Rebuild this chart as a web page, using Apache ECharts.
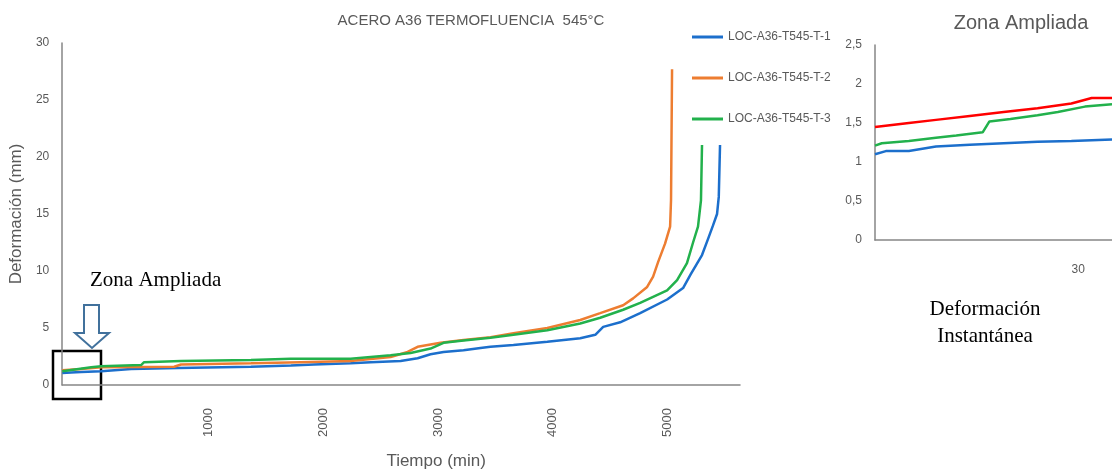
<!DOCTYPE html>
<html>
<head>
<meta charset="utf-8">
<script src="https://cdn.jsdelivr.net/npm/echarts@6/dist/echarts.min.js"></script>
<style>html,body{margin:0;padding:0;background:#fff;}#c{width:1112px;height:476px;}</style>
</head>
<body>
<div id="c"></div>
<script>
// ---- Data (main chart): [tiempo (min), deformación (mm)] ----
const seriesNames = ['LOC-A36-T545-T-1', 'LOC-A36-T545-T-2', 'LOC-A36-T545-T-3'];
const serieT1 = [[-275,1.05],[-197,1.1],[-110,1.15],[64,1.2],[325,1.4],[734,1.5],[1369,1.6],[1717,1.72],[1917,1.8],[2238,1.9],[2412,2.0],[2673,2.1],[2821,2.35],[2934,2.7],[3047,2.9],[3221,3.05],[3369,3.25],[3456,3.35],[3656,3.5],[3951,3.8],[4238,4.1],[4369,4.4],[4438,5.1],[4586,5.5],[4760,6.3],[4995,7.5],[5134,8.5],[5200,9.7],[5299,11.4],[5351,12.8],[5395,14.0],[5430,15.0],[5445,16.5],[5456,21.05]];
const serieT2 = [[-275,1.3],[-110,1.4],[64,1.55],[700,1.6],[760,1.8],[1369,1.9],[1803,2.0],[2238,2.1],[2586,2.45],[2734,2.9],[2821,3.35],[3021,3.7],[3221,3.95],[3456,4.2],[3656,4.55],[3951,5.0],[4238,5.7],[4412,6.3],[4612,7.0],[4699,7.6],[4821,8.6],[4873,9.5],[4917,10.8],[4977,12.4],[5021,13.9],[5029,16.2],[5038,27.7]];
const serieT3 = [[-275,1.2],[-23,1.55],[64,1.65],[412,1.75],[438,2.0],[760,2.1],[1369,2.2],[1717,2.3],[2238,2.3],[2586,2.6],[2760,2.8],[2934,3.2],[3047,3.7],[3221,3.9],[3456,4.15],[3656,4.4],[3951,4.8],[4238,5.4],[4412,5.9],[4612,6.6],[4760,7.2],[4995,8.3],[5082,9.2],[5168,10.7],[5221,12.5],[5264,13.9],[5290,16.2],[5299,21.05]];
const xTickLabels = [1000, 2000, 3000, 4000, 5000];

// ---- Data (inset "Zona Ampliada") ----
const zonaRoja = [[0,1.45],[5,1.5],[9,1.54],[14,1.59],[19,1.64],[24,1.69],[29,1.75],[32,1.82],[35,1.82]];
const zonaVerde = [[0,1.21],[1,1.24],[5,1.27],[9,1.31],[12,1.34],[15.9,1.38],[16.9,1.52],[20,1.55],[24,1.6],[27,1.64],[31,1.71],[35,1.74]];
const zonaAzul = [[0,1.1],[1.6,1.14],[5,1.14],[9,1.2],[14,1.22],[19,1.24],[24,1.26],[29,1.27],[35,1.29]];
const zonaXLabels = [30];

const cBlue = '#1c6fcc', cOrange = '#ED7D31', cGreen = '#22b14c', cRed = '#ff0000';
const gray = '#595959', axisGray = '#868686';

const chart = echarts.init(document.getElementById('c'), null, {renderer: 'canvas'});
const lineS = (name, data, color, xi, yi, w) => ({
  name, type: 'line', data, xAxisIndex: xi, yAxisIndex: yi, symbol: 'none', showSymbol: false, smooth: false,
  lineStyle: {color, width: w}, itemStyle: {color}, animation: false
});

chart.setOption({
  animation: false,
  backgroundColor: '#fff',
  title: [
    {text: 'ACERO A36 TERMOFLUENCIA  545°C', left: 466, top: 8, textAlign: 'center',
     textStyle: {fontFamily: 'Liberation Sans', fontSize: 15, fontWeight: 'normal', color: gray}},
    {text: 'Zona Ampliada', left: 1016, top: 8, textAlign: 'center',
     textStyle: {fontFamily: 'Liberation Sans', fontSize: 20, fontWeight: 'normal', color: gray}}
  ],
  legend: {
    data: seriesNames, orient: 'vertical', left: 687, top: 26, icon: 'rect', itemWidth: 31, itemHeight: 3, itemGap: 29,
    textStyle: {fontFamily: 'Liberation Sans', fontSize: 12, color: gray}
  },
  grid: [
    {left: 61, right: 372, top: 43, bottom: 91},
    {left: 875, right: 0, top: 45, bottom: 236}
  ],
  xAxis: [
    {type: 'value', gridIndex: 0, min: -275, max: 5630,
     name: 'Tiempo (min)', nameLocation: 'middle', nameGap: 68,
     nameTextStyle: {fontFamily: 'Liberation Sans', fontSize: 17, color: gray, padding: [0,0,0,70]},
     axisLine: {show: true, onZero: false, lineStyle: {color: axisGray, width: 1.5}},
     axisTick: {show: false}, splitLine: {show: false},
     axisLabel: {customValues: xTickLabels, rotate: 90, margin: 23, fontFamily: 'Liberation Sans', fontSize: 13, color: gray,
       formatter: v => String(v)}},
    {type: 'value', gridIndex: 1, min: 0, max: 35,
     axisLine: {show: true, onZero: false, lineStyle: {color: axisGray, width: 1.5}},
     axisTick: {show: false}, splitLine: {show: false},
     axisLabel: {customValues: zonaXLabels, margin: 24, fontFamily: 'Liberation Sans', fontSize: 12, color: gray,
       formatter: v => String(v)}}
  ],
  yAxis: [
    {type: 'value', gridIndex: 0, min: 0, max: 30, interval: 5,
     name: 'Deformación (mm)', nameLocation: 'middle', nameGap: 34,
     nameTextStyle: {fontFamily: 'Liberation Sans', fontSize: 17, color: gray},
     axisLine: {show: true, onZero: false, lineStyle: {color: axisGray, width: 1.5}},
     axisTick: {show: false}, splitLine: {show: false},
     axisLabel: {margin: 13, fontFamily: 'Liberation Sans', fontSize: 12, color: gray}},
    {type: 'value', gridIndex: 1, min: 0, max: 2.5, interval: 0.5,
     axisLine: {show: true, onZero: false, lineStyle: {color: axisGray, width: 1.5}},
     axisTick: {show: false}, splitLine: {show: false},
     axisLabel: {margin: 13, fontFamily: 'Liberation Sans', fontSize: 12, color: gray,
       formatter: v => String(v).replace('.', ',')}}
  ],
  series: [
    lineS(seriesNames[0], serieT1, cBlue, 0, 0, 2.5),
    lineS(seriesNames[1], serieT2, cOrange, 0, 0, 2.5),
    lineS(seriesNames[2], serieT3, cGreen, 0, 0, 2.5),
    lineS('Zona T-2', zonaRoja, cRed, 1, 1, 2.5),
    lineS('Zona T-3', zonaVerde, cGreen, 1, 1, 2.5),
    lineS('Zona T-1', zonaAzul, cBlue, 1, 1, 2.5)
  ],
  graphic: [
    {type: 'text', left: 90, top: 270, style: {text: 'Zona Ampliada', font: '21px "Liberation Serif"', fill: '#000'}},
    {type: 'polygon', shape: {points: [[84,305],[99,305],[99,333],[109,333],[92,348],[75,333],[84,333]]},
     style: {fill: '#fff', stroke: '#41719c', lineWidth: 2}},
    {type: 'rect', shape: {x: 53, y: 351, width: 48, height: 48}, style: {fill: 'none', stroke: '#000', lineWidth: 2.5}},
    {type: 'text', x: 985, y: 296, style: {text: 'Deformación\nInstantánea', font: '21px "Liberation Serif"', fill: '#000', align: 'center', lineHeight: 27}}
  ]
});
</script>
</body>
</html>
